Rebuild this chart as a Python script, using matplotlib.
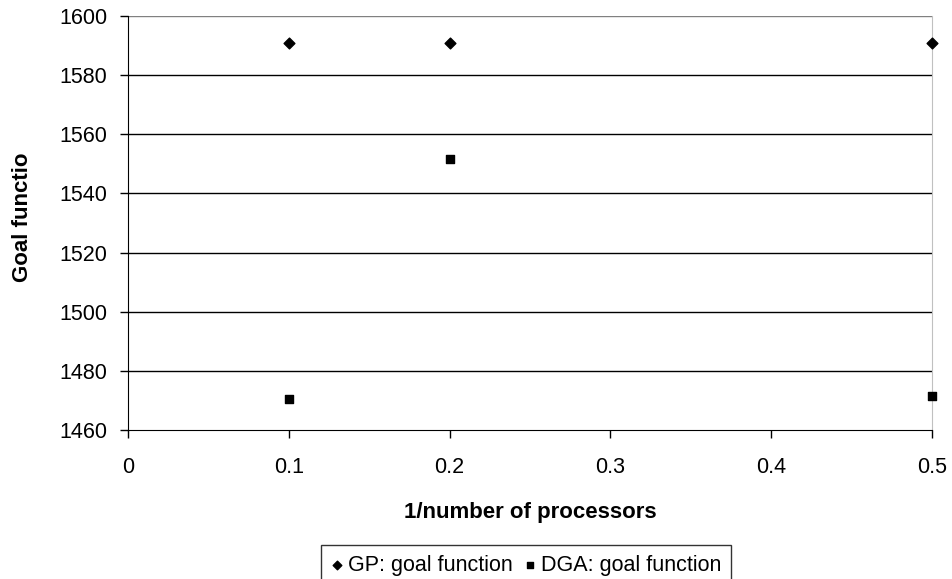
import matplotlib
matplotlib.use("Agg")
import matplotlib.pyplot as plt
from matplotlib.transforms import Bbox

plt.rcParams['font.family'] = ['Liberation Sans', 'DejaVu Sans']

# données
gp_x = [0.1, 0.2, 0.5]
gp_y = [1591, 1591, 1591]
dga_x = [0.1, 0.2, 0.5]
dga_y = [1470.5, 1551.5, 1471.5]
y_ticks = [1460, 1480, 1500, 1520, 1540, 1560, 1580, 1600]
x_ticks = [0, 0.1, 0.2, 0.3, 0.4, 0.5]

fig = plt.figure(figsize=(9.53, 5.79), dpi=100)
W, H = 953, 579
ax = fig.add_axes([128 / W, 1 - 430 / H, (932 - 128) / W, (430 - 16) / H])

# lignes de grille
for v in y_ticks[1:]:
    ax.axhline(v, color='#808080' if v == 1600 else 'black', lw=1, zorder=1)

ax.scatter(gp_x, gp_y, marker='D', s=30, color='black', zorder=3,
           clip_on=False, label='GP: goal function')
ax.scatter(dga_x, dga_y, marker='s', s=36, color='black', zorder=3,
           clip_on=False, label='DGA: goal function')

ax.set_xlim(0, 0.5)
ax.set_ylim(1460, 1600)
ax.set_xticks(x_ticks)
ax.set_xticklabels(['0', '0.1', '0.2', '0.3', '0.4', '0.5'])
ax.set_yticks(y_ticks)
ax.tick_params(direction='out', length=6, width=1, color='black', labelsize=15.5)
ax.tick_params(axis='x', pad=13.5)
ax.tick_params(axis='y', pad=9)

ax.spines['top'].set_visible(False)
ax.spines['right'].set_color('#c0c0c0')
ax.spines['left'].set_color('black')
ax.spines['bottom'].set_color('black')

ax.set_xlabel('1/number of processors', fontsize=16, fontweight='bold', labelpad=17)

# étiquette Y tronquée comme dans l'original
yl = fig.text(23 / W, 1 - 210 / H, 'Goal function', rotation=90, fontsize=16,
              fontweight='bold', ha='center', va='center')
yl.set_clip_box(Bbox.from_extents(0, 0, W, H - 152))
yl.set_clip_on(True)

leg = fig.legend(loc='upper left', bbox_to_anchor=(321 / W, 1 - 545 / H), ncol=2,
                 frameon=True, fancybox=False, edgecolor='black', fontsize=15.5,
                 handletextpad=0.2, columnspacing=0.5, handlelength=0.6,
                 borderpad=0.45, borderaxespad=0, markerscale=0.8)
leg.get_frame().set_linewidth(1)

fig.savefig('out.png', dpi=100)
